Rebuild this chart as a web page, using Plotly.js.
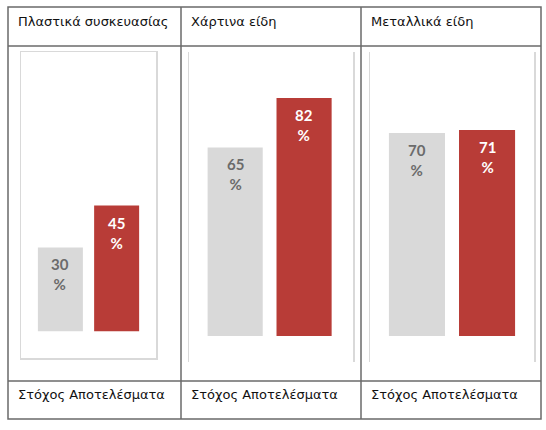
<!DOCTYPE html>
<html>
<head>
<meta charset="utf-8">
<script src="https://cdn.plot.ly/plotly-3.0.1.min.js"></script>
<style>
  body { margin: 0; background: #fff; }
  #chart { width: 546px; height: 430px; }
</style>
</head>
<body>
<div id="chart"></div>
<script>
// three recycling categories, target vs result (%)
const panels = ["Πλαστικά συσκευασίας", "Χάρτινα είδη", "Μεταλλικά είδη"]
const series = ["Στόχος", "Αποτελέσματα"]
const targets = [30, 65, 70]
const results = [45, 82, 71]

const W = 546, H = 430
function px(x){ return x / W }
function py(y){ return 1 - y / H }

// plot boxes in pixels: [left, right, top, bottom]
const boxes = [[21, 156, 52, 358], [189, 353, 52, 362], [370, 534, 52, 362]]
const xranges = [[-0.7, 1.7], [-0.67, 1.71], [-0.67, 1.67]]
const yranges = [[-9.6, 100], [-9, 97.9], [-9, 97.9]]
const barColors = ['#d9d9d9', '#b83c37']
const labelColors = ['#6b6b6b', '#ffffff']

let traces = []
let layout = {
    width: W,
    height: H,
    margin: {l: 0, r: 0, t: 0, b: 0},
    paper_bgcolor: '#fff',
    plot_bgcolor: '#fff',
    showlegend: false,
    bargap: 0.2,
    shapes: [],
    annotations: []
}

for (let i = 0; i < panels.length; i++) {
    let n = i == 0 ? '' : String(i + 1)
    let vals = [targets[i], results[i]]
    traces.push({
        type: 'bar',
        x: series,
        y: vals,
        xaxis: 'x' + n,
        yaxis: 'y' + n,
        marker: {color: barColors},
        hoverinfo: 'none'
    })

    // value labels just under the top of each bar
    for (let j = 0; j < series.length; j++) {
        layout.annotations.push({
            xref: 'x' + n, yref: 'y' + n,
            x: series[j], y: vals[j],
            xanchor: 'center', yanchor: 'top',
            yshift: -6,
            text: vals[j] + '<br>%',
            showarrow: false,
            font: {family: 'Lato, sans-serif', size: 15, color: labelColors[j], weight: 'bold'}
        })
    }

    let b = boxes[i]
    layout['xaxis' + n] = {
        domain: [px(b[0]), px(b[1])],
        range: xranges[i],
        anchor: 'y' + n,
        showticklabels: false,
        ticks: '',
        showgrid: false,
        zeroline: false,
        showline: i == 0,
        mirror: true,
        linecolor: '#d9d9d9',
        linewidth: 1.5,
        fixedrange: true
    }
    layout['yaxis' + n] = {
        domain: [py(b[3]), py(b[2])],
        range: yranges[i],
        anchor: 'x' + n,
        showticklabels: false,
        ticks: '',
        showgrid: false,
        zeroline: false,
        showline: true,
        mirror: true,
        linecolor: '#d9d9d9',
        linewidth: 1.5,
        fixedrange: true
    }
}

// table grid
const cols = [8, 181, 361, 541]
const line = {color: '#6a6a6a', width: 1.5}
layout.shapes.push({type: 'rect', xref: 'paper', yref: 'paper', x0: px(8), x1: px(541), y0: py(419), y1: py(7), line: line})
for (let y of [46, 381]) {
    layout.shapes.push({type: 'line', xref: 'paper', yref: 'paper', x0: px(8), x1: px(541), y0: py(y), y1: py(y), line: line})
}
for (let x of [181, 361]) {
    layout.shapes.push({type: 'line', xref: 'paper', yref: 'paper', x0: px(x), x1: px(x), y0: py(7), y1: py(419), line: line})
}

const cellFont = {family: 'DejaVu Sans, sans-serif', size: 13, color: '#111'}
for (let i = 0; i < panels.length; i++) {
    layout.annotations.push({
        xref: 'paper', yref: 'paper',
        x: px(cols[i] + 8), y: py(21),
        xanchor: 'left', yanchor: 'middle',
        text: panels[i], showarrow: false, font: cellFont
    })
    layout.annotations.push({
        xref: 'paper', yref: 'paper',
        x: px(cols[i] + 8), y: py(394),
        xanchor: 'left', yanchor: 'middle',
        text: series.join(' '), showarrow: false, font: cellFont
    })
}

Plotly.newPlot('chart', traces, layout, {staticPlot: true})
</script>
</body>
</html>
